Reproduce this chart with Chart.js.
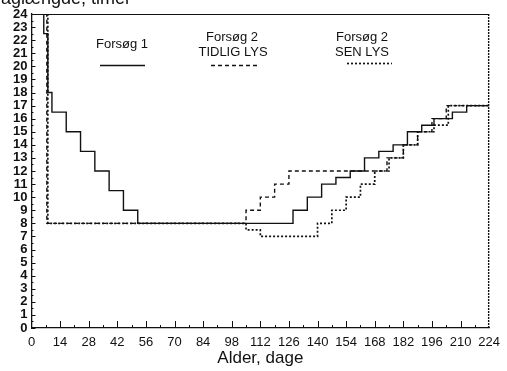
<!DOCTYPE html>
<html>
<head>
<meta charset="utf-8">
<script src="https://cdn.jsdelivr.net/npm/chart.js@4"></script>
<style>
  html, body { margin: 0; padding: 0; background: #fff; }
  canvas { display: block; }
</style>
</head>
<body>
<canvas id="chart" width="507" height="371"></canvas>
<script>
// Forsøg 1 (solid line): day where the step starts, hours from that day on
const solidDays  = [0, 6, 8, 10, 17, 24, 31, 38, 45, 52, 128, 135, 142, 149, 156, 163, 170, 177, 184, 191, 197, 206, 213, 224];
const solidHours = [24, 22.5, 18, 16.5, 15, 13.5, 12, 10.5, 9, 8, 9, 10, 11, 11.5, 12, 13, 13.5, 14, 15, 15.5, 16, 16.5, 17, 17];

// Forsøg 2, TIDLIG LYS (dashed)
const tidligDays  = [0, 7.5, 105, 112, 119, 126, 174, 182, 189, 196, 203, 224];
const tidligHours = [24, 8, 9, 10, 11, 12, 13, 14, 15, 16, 17, 17];

// Forsøg 2, SEN LYS (dotted)
const senDays  = [0, 8, 105, 112, 140, 147, 154, 161, 168, 175, 182, 189, 197, 204, 224];
const senHours = [24, 8, 7.5, 7, 8, 9, 10, 11, 12, 13, 14, 15, 15.5, 17, 17];

const xTitle = 'Alder, dage';
const yTitle = 'Daglængde, timer';

const ink = '#111';
Chart.defaults.font.family = '"Liberation Sans", Arial, sans-serif';
Chart.defaults.color = ink;

function toPoints(days, hours) {
    return days.map(function (d, i) { return { x: d, y: hours[i] }; });
}

// frame, inward ticks, legend texts and the cut-off y title
const decorPlugin = {
    id: 'decor',
    afterDraw: function (chart) {
        const ctx = chart.ctx;
        const a = chart.chartArea;
        const xs = chart.scales.x;
        const ys = chart.scales.y;
        ctx.save();
        ctx.strokeStyle = ink;
        ctx.lineWidth = 1;

        // top and right border
        ctx.beginPath();
        ctx.moveTo(a.left, a.top + 0.5);
        ctx.lineTo(a.right, a.top + 0.5);
        ctx.stroke();
        ctx.lineWidth = 1.4;
        ctx.setLineDash([2, 1]);
        ctx.beginPath();
        ctx.moveTo(a.right - 0.5, a.top);
        ctx.lineTo(a.right - 0.5, a.bottom);
        ctx.stroke();
        ctx.setLineDash([]);
        ctx.lineWidth = 1;

        // y ticks pointing inward
        for (let v = 0; v <= 24; v += 0.5) {
            const y = Math.round(ys.getPixelForValue(v)) + 0.5;
            const len = (v % 1 === 0) ? 4 : 2;
            ctx.beginPath();
            ctx.moveTo(a.left, y);
            ctx.lineTo(a.left + len, y);
            ctx.stroke();
        }
        // x ticks pointing inward
        for (let d = 7; d < 224; d += 7) {
            const x = Math.round(xs.getPixelForValue(d)) + 0.5;
            const len = (d % 14 === 0) ? 7 : 3;
            ctx.beginPath();
            ctx.moveTo(x, a.bottom);
            ctx.lineTo(x, a.bottom - len);
            ctx.stroke();
        }

        // legend
        ctx.fillStyle = ink;
        ctx.font = '13px "Liberation Sans", Arial, sans-serif';
        ctx.textAlign = 'center';
        ctx.textBaseline = 'middle';
        ctx.fillText('Forsøg 1', 122, 44);
        ctx.fillText('Forsøg 2', 232, 37);
        ctx.fillText('TIDLIG LYS', 233, 52);
        ctx.fillText('Forsøg 2', 362, 37);
        ctx.fillText('SEN LYS', 362, 52);

        ctx.lineWidth = 1.4;
        ctx.beginPath();
        ctx.moveTo(100, 65.5);
        ctx.lineTo(145, 65.5);
        ctx.stroke();
        ctx.setLineDash([4, 3]);
        ctx.beginPath();
        ctx.moveTo(211, 65.5);
        ctx.lineTo(257, 65.5);
        ctx.stroke();
        ctx.lineWidth = 1.7;
        ctx.setLineDash([2, 2]);
        ctx.beginPath();
        ctx.moveTo(347, 63.5);
        ctx.lineTo(392, 63.5);
        ctx.stroke();
        ctx.setLineDash([]);

        // y title, cut off at the top edge
        ctx.textAlign = 'left';
        ctx.textBaseline = 'alphabetic';
        ctx.font = '18px "Liberation Sans", Arial, sans-serif';
        ctx.fillText(yTitle, -12, 4);
        ctx.restore();
    }
};

new Chart(document.getElementById('chart').getContext('2d'), {
    type: 'line',
    data: {
        datasets: [
            {
                label: 'Forsøg 1',
                data: toPoints(solidDays, solidHours),
                stepped: 'before',
                borderColor: ink,
                borderWidth: 1.4,
                pointRadius: 0,
                fill: false
            },
            {
                label: 'Forsøg 2 TIDLIG LYS',
                data: toPoints(tidligDays, tidligHours),
                stepped: 'before',
                borderColor: ink,
                borderWidth: 1.4,
                borderDash: [4, 3],
                pointRadius: 0,
                fill: false
            },
            {
                label: 'Forsøg 2 SEN LYS',
                data: toPoints(senDays, senHours),
                stepped: 'before',
                borderColor: ink,
                borderWidth: 1.7,
                borderDash: [2, 2],
                pointRadius: 0,
                fill: false
            }
        ]
    },
    options: {
        responsive: false,
        animation: false,
        devicePixelRatio: 1,
        layout: { padding: { top: 14, right: 14, left: 0, bottom: 0 } },
        plugins: {
            legend: { display: false },
            tooltip: { enabled: false }
        },
        scales: {
            x: {
                type: 'linear',
                min: 0,
                max: 224,
                grid: { display: false, drawTicks: false },
                border: { display: true, color: ink, width: 1.3 },
                ticks: {
                    stepSize: 14,
                    autoSkip: false,
                    maxRotation: 0,
                    padding: 7,
                    color: ink,
                    font: { size: 13 }
                },
                title: {
                    display: true,
                    text: xTitle,
                    color: ink,
                    font: { size: 17 },
                    padding: { top: 0, bottom: 2 }
                },
                afterFit: function (s) { s.height = 43; }
            },
            y: {
                min: 0,
                max: 24,
                grid: { display: false, drawTicks: false },
                border: { display: true, color: ink, width: 1.3 },
                ticks: {
                    stepSize: 1,
                    autoSkip: false,
                    padding: 4,
                    color: ink,
                    font: { size: 13, weight: 'bold' }
                },
                afterFit: function (s) { s.width = 31.5; }
            }
        }
    },
    plugins: [decorPlugin]
});
</script>
</body>
</html>
